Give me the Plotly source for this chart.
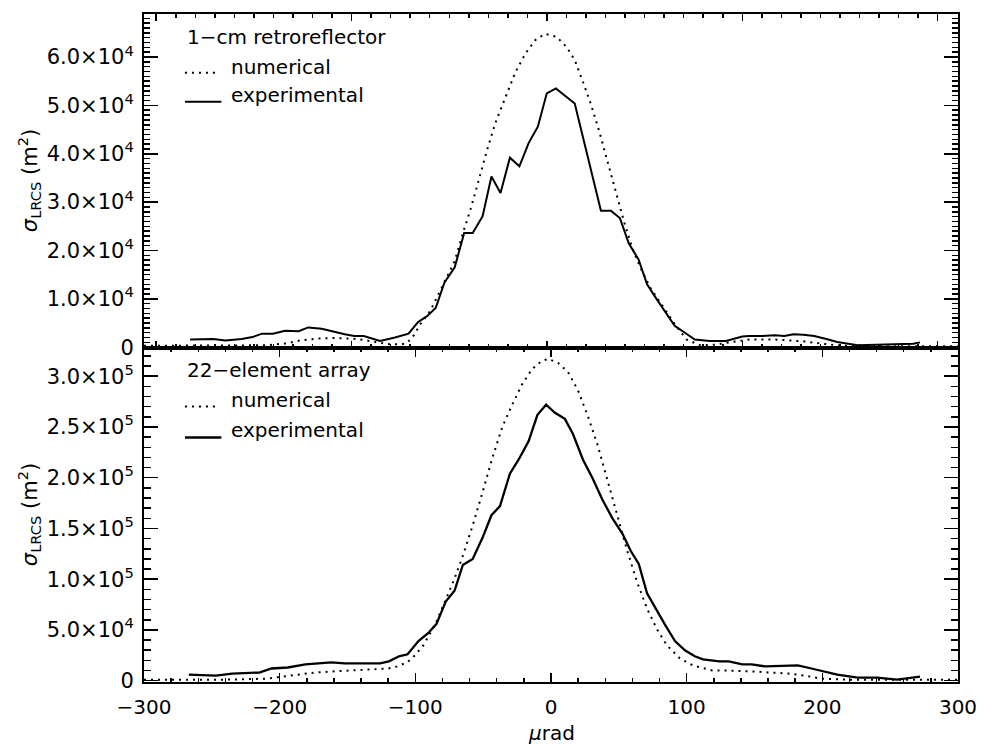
import plotly.graph_objects as go

# ---------------- data (x in µrad) ----------------
# Top panel: 1-cm retroreflector, sigma in units of 1e4 m^2
top_num_x = [-300, -260, -230, -210, -195, -185, -172, -160, -148, -138, -128, -118, -110, -106,
             -101, -96.5, -89, -79.5, -71, -64.5, -59, -52.9, -46.8, -40.7, -33.5, -26.2, -18.9,
             -11.6, -4.4, 4.1, 11.4, 17.5, 23.5, 29.6, 35.6, 41.7, 47.8, 53.8, 59.9, 66, 73.2, 83,
             91.4, 99.9, 110, 120, 132, 146, 165, 187, 201, 214, 240, 300]
top_num_y = [0.03, 0.03, 0.03, 0.04, 0.08, 0.14, 0.18, 0.19, 0.18, 0.15, 0.10, 0.06, 0.06, 0.09,
             0.25, 0.47, 0.75, 1.30, 1.78, 2.40, 2.88, 3.49, 4.11, 4.66, 5.18, 5.69, 6.07,
             6.35, 6.48, 6.42, 6.21, 5.94, 5.49, 5.01, 4.46, 3.84, 3.22, 2.60, 2.05, 1.64, 1.23, 0.81,
             0.47, 0.16, 0.04, 0.05, 0.10, 0.16, 0.16, 0.12, 0.07, 0.03, 0.02, 0.02]

top_exp_x = [-266, -249, -240, -228, -220, -213, -205, -196, -186, -179, -169, -162, -152, -145,
             -138, -126, -115, -105, -98, -91, -85, -78.5, -71, -64, -57.7, -50.4, -43.9, -37.2,
             -30.3, -23.3, -16.5, -9.7, -3.1, 3.6, 10.7, 17.5, 36.8, 44.1, 50.8, 57.3, 64.6, 70.8,
             78, 84, 91.3, 98.7, 106, 117, 129, 141, 146, 155.6, 165, 172, 178.7, 186, 194, 203,
             211, 226, 243, 257, 267, 272]
top_exp_y = [0.16, 0.17, 0.14, 0.17, 0.21, 0.28, 0.28, 0.34, 0.33, 0.41, 0.38, 0.33, 0.27, 0.23,
             0.23, 0.13, 0.20, 0.28, 0.52, 0.65, 0.81, 1.34, 1.65, 2.36, 2.36, 2.71, 3.53, 3.19,
             3.92, 3.74, 4.22, 4.56, 5.25, 5.35, 5.20, 5.04, 2.82, 2.82, 2.67, 2.15, 1.81, 1.30,
             0.99, 0.75, 0.44, 0.30, 0.16, 0.13, 0.13, 0.22, 0.23, 0.23, 0.25, 0.23, 0.27, 0.26,
             0.23, 0.17, 0.11, 0.04, 0.05, 0.06, 0.07, 0.10]

# Bottom panel: 22-element array, sigma in units of 1e5 m^2
bot_num_x = [-300, -240, -210, -193, -174, -162, -138, -120, -113.5, -106, -101, -94, -84.4, -77,
             -71, -65, -57.7, -50.4, -43.1, -35.9, -28.6, -21.3, -14, -6.8, -2, 5.3, 12.6, 19.9,
             27.1, 34.4, 41.7, 49, 56.2, 63.5, 70.8, 78, 85.3, 95, 104.7, 119, 129, 150, 175, 187,
             199, 220, 300]
bot_num_y = [0.01, 0.01, 0.02, 0.05, 0.08, 0.09, 0.11, 0.12, 0.14, 0.18, 0.24, 0.35, 0.58, 0.81,
             1.01, 1.23, 1.53, 1.86, 2.20, 2.50, 2.72, 2.92, 3.07, 3.15, 3.17, 3.13, 3.04, 2.86,
             2.61, 2.32, 1.97, 1.61, 1.28, 0.97, 0.71, 0.51, 0.35, 0.22, 0.15, 0.10, 0.10, 0.09,
             0.07, 0.05, 0.02, 0.01, 0.01]

bot_exp_x = [-267, -247, -235, -215, -206, -194, -181, -162, -152, -138, -126, -119.5, -112,
             -105.7, -97.7, -90.4, -84.4, -77.6, -71, -65, -57.7, -50.4, -43.9, -37.6, -30.3,
             -23.8, -16.5, -10, -3.6, 2.9, 10.2, 16.2, 23.5, 30.8, 38, 45.3, 52.6, 58.7, 64.7,
             70.8, 78, 84.1, 91.4, 98.7, 106, 112, 124, 131, 141, 148, 158, 172.6, 182, 192,
             201.7, 211, 226, 240.5, 255, 272]
bot_exp_y = [0.06, 0.05, 0.07, 0.08, 0.12, 0.13, 0.16, 0.18, 0.17, 0.17, 0.17, 0.19, 0.24,
             0.26, 0.39, 0.47, 0.56, 0.78, 0.89, 1.14, 1.20, 1.41, 1.63, 1.72, 2.04,
             2.18, 2.36, 2.62, 2.72, 2.64, 2.58, 2.43, 2.18, 1.99, 1.78, 1.60, 1.45, 1.28, 1.15,
             0.86, 0.69, 0.55, 0.39, 0.30, 0.24, 0.21, 0.19, 0.19, 0.16, 0.16, 0.14, 0.15, 0.15,
             0.12, 0.09, 0.06, 0.03, 0.03, 0.01, 0.04]

# tick labels
top_tickvals = [0, 1, 2, 3, 4, 5, 6]
top_ticktext = ["0", "1.0×10<sup>4</sup>", "2.0×10<sup>4</sup>", "3.0×10<sup>4</sup>",
                "4.0×10<sup>4</sup>", "5.0×10<sup>4</sup>", "6.0×10<sup>4</sup>"]
bot_tickvals = [0, 0.5, 1.0, 1.5, 2.0, 2.5, 3.0]
bot_ticktext = ["0", "5.0×10<sup>4</sup>", "1.0×10<sup>5</sup>", "1.5×10<sup>5</sup>",
                "2.0×10<sup>5</sup>", "2.5×10<sup>5</sup>", "3.0×10<sup>5</sup>"]
x_tickvals = [-300, -200, -100, 0, 100, 200, 300]
x_ticktext = ["−300", "−200", "−100", "0", "100", "200", "300"]

FONT = "DejaVu Sans"
DOT = "2px,5px"

fig = go.Figure()
fig.add_trace(go.Scatter(x=top_num_x, y=top_num_y, xaxis="x2", yaxis="y2", mode="lines",
                         line=dict(color="black", width=2, dash=DOT)))
fig.add_trace(go.Scatter(x=top_exp_x, y=top_exp_y, xaxis="x2", yaxis="y2", mode="lines",
                         line=dict(color="black", width=2)))
fig.add_trace(go.Scatter(x=bot_num_x, y=bot_num_y, xaxis="x", yaxis="y", mode="lines",
                         line=dict(color="black", width=2, dash=DOT)))
fig.add_trace(go.Scatter(x=bot_exp_x, y=bot_exp_y, xaxis="x", yaxis="y", mode="lines",
                         line=dict(color="black", width=2.3)))

axis_common = dict(showline=True, linecolor="black", linewidth=2, mirror="ticks",
                   ticks="inside", tickcolor="black", tickwidth=1.5, showgrid=False,
                   zeroline=False)

fig.update_layout(
    width=989, height=744, autosize=False,
    margin=dict(l=144, r=20, t=12, b=62),
    paper_bgcolor="white", plot_bgcolor="white",
    showlegend=False, hovermode=False,
    font=dict(family=FONT, size=21, color="black"),
    xaxis=dict(domain=[0, 1], anchor="y", range=[-300, 300],
               tickmode="array", tickvals=x_tickvals, ticktext=x_ticktext, ticklen=9,
               ticklabelstandoff=6, ticklabeloverflow="allow",
               tickfont=dict(family=FONT, size=20),
               minor=dict(tickmode="linear", tick0=0, dtick=20, ticklen=4, ticks="inside",
                          tickcolor="black", tickwidth=1.5),
               **axis_common),
    yaxis=dict(domain=[0, 0.5], anchor="x", range=[-0.013, 3.278],
               tickmode="array", tickvals=bot_tickvals, ticktext=bot_ticktext, ticklen=14,
               ticklabelstandoff=4,
               minor=dict(tickmode="linear", tick0=0, dtick=0.1, ticklen=7, ticks="inside",
                          tickcolor="black", tickwidth=1.5),
               **axis_common),
    xaxis2=dict(domain=[0, 1], anchor="y2", range=[-300, 300], showticklabels=False,
                tickmode="linear", tick0=-3, dtick=144, ticklen=7,
                minor=dict(tickmode="linear", tick0=-3, dtick=14.4, ticklen=4, ticks="inside",
                           tickcolor="black", tickwidth=1.5),
                **axis_common),
    yaxis2=dict(domain=[0.5, 1], anchor="x2", range=[-0.016, 6.89],
                tickmode="array", tickvals=top_tickvals, ticktext=top_ticktext, ticklen=14,
                ticklabelstandoff=4,
                minor=dict(tickmode="linear", tick0=0, dtick=0.1, ticklen=6, ticks="inside",
                           tickcolor="black", tickwidth=1.5),
                **axis_common),
)

# legend-like labels inside panels
labels = [
    ("1−cm retroreflector", 0.0503, 0.9661),
    ("numerical", 0.1048, 0.9213),
    ("experimental", 0.1048, 0.8791),
    ("22−element array", 0.0503, 0.4672),
    ("numerical", 0.1048, 0.4224),
    ("experimental", 0.1048, 0.3776),
]
for txt, xp, yp in labels:
    fig.add_annotation(text=txt, x=xp, y=yp, xref="paper", yref="paper", showarrow=False,
                       xanchor="left", yanchor="middle", font=dict(family=FONT, size=20))

samples = [(0.9119, DOT, 2), (0.8687, "solid", 2), (0.4124, DOT, 2), (0.3661, "solid", 2.5)]
for yp, dash, w in samples:
    fig.add_shape(type="line", xref="paper", yref="paper", x0=0.0503,
                  x1=0.0951 if dash == "solid" else 0.0902,
                  y0=yp, y1=yp, line=dict(color="black", width=w, dash=dash))

# axis titles
ytitle = "<i>σ</i><sub>LRCS</sub> (m<sup>2</sup>)"
for yc in (0.75, 0.25):
    fig.add_annotation(text=ytitle, x=-0.1411, y=yc, xref="paper", yref="paper", showarrow=False,
                       textangle=-90, xanchor="center", yanchor="middle",
                       font=dict(family=FONT, size=21))
fig.add_annotation(text="<i>μ</i>rad", x=0.5, y=-0.0761, xref="paper", yref="paper",
                   showarrow=False, xanchor="center", yanchor="middle",
                   font=dict(family=FONT, size=20))

# remove the default page margin and force the figure back to the full 989x744 size
post = ("document.body.style.margin='0';document.body.style.overflow='hidden';"
        "var gd=document.getElementById('{plot_id}');"
        "gd.style.width='989px';gd.style.height='744px';"
        "Plotly.relayout(gd,{width:989,height:744});")
fig.write_html("out.html",
               config={"responsive": False, "displayModeBar": False, "staticPlot": True},
               post_script=post)
